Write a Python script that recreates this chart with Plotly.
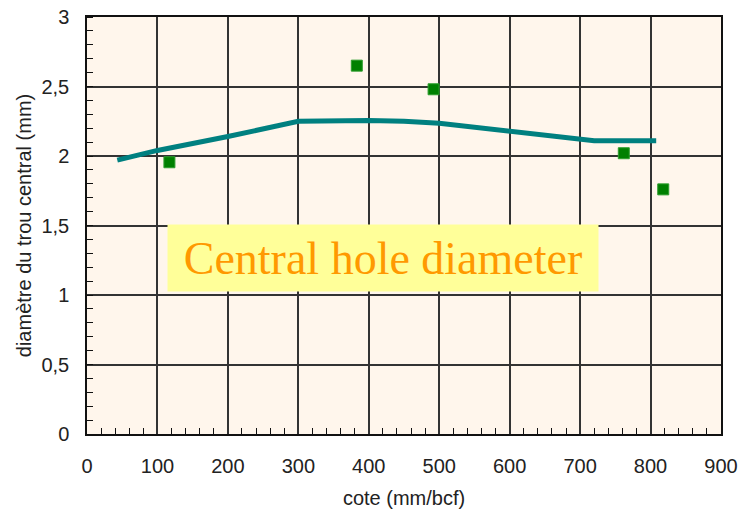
import plotly.graph_objects as go

# Fitted curve (cote, diameter)
curve_x = [43, 100, 200, 300, 400, 450, 500, 600, 700, 720, 808]
curve_y = [1.97, 2.04, 2.14, 2.25, 2.255, 2.25, 2.235, 2.18, 2.125, 2.11, 2.11]

# Measured points
meas_x = [117, 383, 492, 762, 818]
meas_y = [1.955, 2.65, 2.48, 2.02, 1.76]

x_title = "cote (mm/bcf)"
y_title = "diamètre du trou central (mm)"
label_text = "Central hole diameter"

y_ticks = [0, 0.5, 1, 1.5, 2, 2.5, 3]
y_tick_text = ["0", "0,5", "1", "1,5", "2", "2,5", "3"]

fig = go.Figure()
fig.add_trace(go.Scatter(x=curve_x, y=curve_y, mode="lines",
                         line=dict(color="#008080", width=5), showlegend=False))
fig.add_trace(go.Scatter(x=meas_x, y=meas_y, mode="markers",
                         marker=dict(symbol="square", size=11, color="#008000",
                                     line=dict(color="#2e9e2e", width=1)),
                         showlegend=False))

font_sans = "Liberation Sans, Arial, sans-serif"

fig.update_xaxes(range=[0, 900], dtick=100, tick0=0, automargin=False,
                 showgrid=True, gridcolor="#333333", gridwidth=1.5,
                 showline=True, linecolor="#111111", linewidth=1.5, mirror=True,
                 ticks="", zeroline=False, ticklabelstandoff=13,
                 minor=dict(dtick=20, ticks="inside", ticklen=6, tickcolor="#111111", showgrid=False),
                 tickfont=dict(family=font_sans, size=20, color="#222222"),
                 title=dict(text=x_title, font=dict(family=font_sans, size=20, color="#222222")))
fig.update_yaxes(range=[0, 3], tickvals=y_ticks, ticktext=y_tick_text, automargin=False,
                 showgrid=True, gridcolor="#333333", gridwidth=1.5,
                 showline=True, linecolor="#111111", linewidth=1.5, mirror=True,
                 ticks="", zeroline=False, ticklabelstandoff=12,
                 minor=dict(dtick=0.1, ticks="inside", ticklen=6, tickcolor="#111111", showgrid=False),
                 tickfont=dict(family=font_sans, size=20, color="#222222"),
                 title=dict(text=y_title, standoff=4,
                            font=dict(family=font_sans, size=20, color="#222222")))

fig.add_annotation(x=420, y=1.266, xref="x", yref="y", text=label_text, showarrow=False,
                   font=dict(family="Liberation Serif, Times New Roman, serif", size=46, color="#FF9900"),
                   bgcolor="#FFFF99", width=424, height=60, borderpad=3, align="center")

fig.update_layout(width=742, height=514,
                  margin=dict(l=87, r=21, t=17, b=80),
                  paper_bgcolor="white", plot_bgcolor="#FFF6EC")

fig.write_html("out.html", config={"displayModeBar": False},
               post_script="document.body.style.margin='0';")
